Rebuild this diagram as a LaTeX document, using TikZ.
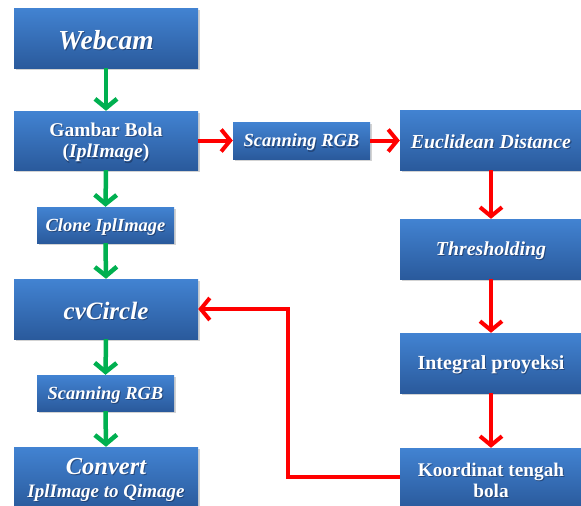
\documentclass[tikz,border=0pt]{standalone}
\usepackage{fontspec}
\setmainfont{Liberation Serif}
\usetikzlibrary{arrows.meta,shadows}
\definecolor{boxtop}{HTML}{4283D2}
\definecolor{boxbot}{HTML}{2A5A9C}
\definecolor{agreen}{HTML}{00B050}
\definecolor{ared}{HTML}{FF0000}
\definecolor{tshadow}{HTML}{1A2F55}
\tikzset{
  blk/.style={rectangle, top color=boxtop, bottom color=boxbot, draw=none,
    inner sep=0pt, drop shadow={shadow xshift=1.5pt, shadow yshift=-2pt, opacity=0.35}},
  txt/.style={text=white, align=center, inner sep=0pt},
  txtsh/.style={text=tshadow, align=center, inner sep=0pt, opacity=0.6},
  garrow/.style={draw=agreen, line width=4.5pt, -{Straight Barb[length=9pt,width=22pt,line width=4.5pt]}},
  rarrow/.style={draw=ared, line width=4pt, -{Straight Barb[length=9pt,width=22pt,line width=4pt]}},
}
\newcommand\blkbox[7]{%
  \node[blk, minimum width=#4, minimum height=#5] (#1) at (#2,#3) {};
  \node[txtsh, font=#6] (#1s) at ([xshift=1pt,yshift=-3.2pt]#1.center) {#7};
  \node[txt, font=#6] (#1t) at ([yshift=-2pt]#1.center) {#7};
}
\begin{document}
\begin{tikzpicture}[x=1pt,y=-1pt]
\useasboundingbox (0,0) rectangle (581,506);
\clip (0,0) rectangle (581,506);
% left column
\blkbox{web}{106}{38}{184pt}{60pt}{\fontsize{27.5}{30}\selectfont\bfseries\itshape}{Webcam}
\blkbox{gam}{106}{140.5}{184pt}{59pt}{\fontsize{19.5}{21.5}\selectfont\bfseries}{Gambar Bola\\(\textit{IplImage})}
\blkbox{clone}{105.5}{225}{137pt}{36pt}{\fontsize{18.5}{20}\selectfont\bfseries\itshape}{Clone IplImage}
\blkbox{cvc}{106}{309}{184pt}{60pt}{\fontsize{25}{28}\selectfont\bfseries\itshape}{cvCircle}
\blkbox{scanl}{105.5}{393}{137pt}{36pt}{\fontsize{18.5}{20}\selectfont\bfseries\itshape}{Scanning RGB}
\blkbox{conv}{106}{478}{184pt}{62pt}{\fontsize{19}{23}\selectfont\bfseries\itshape}{{\fontsize{24.5}{26}\selectfont Convert}\\IplImage to Qimage}
% top middle
\blkbox{scant}{301.5}{140.5}{137pt}{37pt}{\fontsize{18.5}{20}\selectfont\bfseries\itshape}{Scanning RGB}
% right column
\blkbox{eucl}{491}{140}{182pt}{60pt}{\fontsize{19.8}{22}\selectfont\bfseries\itshape}{Euclidean Distance}
\blkbox{thr}{491}{249}{182pt}{60pt}{\fontsize{19.8}{22}\selectfont\bfseries\itshape}{Thresholding}
\blkbox{integ}{491}{363}{182pt}{60pt}{\fontsize{20}{22}\selectfont\bfseries}{Integral proyeksi}
\blkbox{koord}{491}{478}{182pt}{60pt}{\fontsize{19.3}{21}\selectfont\bfseries}{Koordinat tengah\\bola}
% green arrows
\draw[garrow] (web.south) -- (gam.north);
\draw[garrow] (gam.south) -- (clone.north);
\draw[garrow] (clone.south) -- (cvc.north);
\draw[garrow] (cvc.south) -- (scanl.north);
\draw[garrow] (scanl.south) -- (conv.north);
% red arrows
\draw[rarrow] (gam.east) -- (scant.west);
\draw[rarrow] (scant.east) -- (eucl.west |- scant.east);
\draw[rarrow] (eucl.south) -- (thr.north);
\draw[rarrow] (thr.south) -- (integ.north);
\draw[rarrow] (integ.south) -- (koord.north);
\coordinate (fb1) at (288,477);
\coordinate (fb2) at (288,309);
\draw[rarrow] (koord.west |- fb1) -- (fb1) -- (fb2) -- (cvc.east);
\end{tikzpicture}
\end{document}
